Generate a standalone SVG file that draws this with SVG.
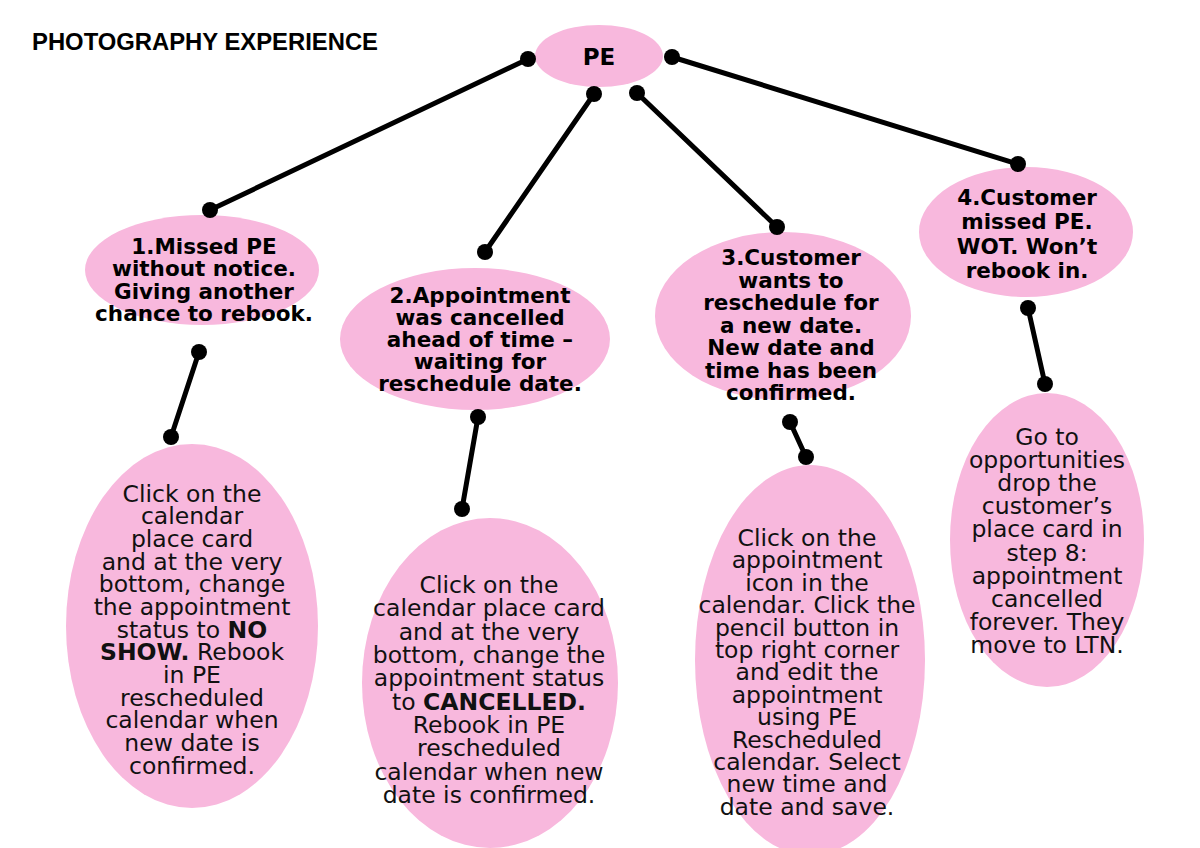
<svg xmlns="http://www.w3.org/2000/svg" width="1200" height="848" viewBox="0 0 1200 848">
<style>
.bg{fill:#ffffff}
.node{fill:#F8B8DD}
.b{font-family:"DejaVu Sans","Liberation Sans",sans-serif;font-weight:bold;font-size:21.5px;fill:#000;text-anchor:middle}
.r{font-family:"DejaVu Sans","Liberation Sans",sans-serif;font-size:23.5px;fill:#111;text-anchor:middle}
.r tspan.k{font-weight:bold}
.title{font-family:"Liberation Sans",Arial,sans-serif;font-weight:bold;font-size:23px;fill:#000}
.ln{stroke:#000;stroke-width:5;stroke-linecap:round;fill:none}
.dot{fill:#000}
</style>
<rect class="bg" x="0" y="0" width="1200" height="848"/>
<text class="title" x="32" y="50" textLength="346" lengthAdjust="spacingAndGlyphs">PHOTOGRAPHY EXPERIENCE</text>

<g id="pe">
<ellipse class="node" cx="599" cy="56" rx="64" ry="31"/>
<text class="b" x="599" y="65" style="font-size:23px">PE</text>
</g>

<g id="n1">
<ellipse class="node" cx="202" cy="270" rx="117" ry="55"/>
<text class="b"><tspan x="204" y="254">1.Missed PE</tspan><tspan x="204" y="276.3">without notice.</tspan><tspan x="204" y="298.7">Giving another</tspan><tspan x="204" y="321">chance to rebook.</tspan></text>
</g>

<g id="n2">
<ellipse class="node" cx="475" cy="339" rx="135" ry="71"/>
<text class="b"><tspan x="480" y="303">2.Appointment</tspan><tspan x="480" y="325">was cancelled</tspan><tspan x="480" y="347">ahead of time –</tspan><tspan x="480" y="369">waiting for</tspan><tspan x="480" y="391">reschedule date.</tspan></text>
</g>

<g id="n3">
<ellipse class="node" cx="783" cy="316" rx="128" ry="84"/>
<text class="b"><tspan x="791" y="265">3.Customer</tspan><tspan x="791" y="287.5">wants to</tspan><tspan x="791" y="310">reschedule for</tspan><tspan x="791" y="332.5">a new date.</tspan><tspan x="791" y="355">New date and</tspan><tspan x="791" y="377.5">time has been</tspan><tspan x="791" y="400">confirmed.</tspan></text>
</g>

<g id="n4">
<ellipse class="node" cx="1026" cy="232" rx="107" ry="65"/>
<text class="b"><tspan x="1027" y="205">4.Customer</tspan><tspan x="1027" y="229.3">missed PE.</tspan><tspan x="1027" y="253.7">WOT. Won’t</tspan><tspan x="1027" y="278">rebook in.</tspan></text>
</g>

<g id="d1">
<ellipse class="node" cx="192" cy="626" rx="126" ry="182"/>
<text class="r"><tspan x="192" y="501.5">Click on the</tspan><tspan x="192" y="524.2">calendar</tspan><tspan x="192" y="546.8">place card</tspan><tspan x="192" y="569.5">and at the very</tspan><tspan x="192" y="592.2">bottom, change</tspan><tspan x="192" y="614.8">the appointment</tspan><tspan x="192" y="637.5">status to <tspan class="k">NO</tspan></tspan><tspan x="192" y="660.2"><tspan class="k">SHOW.</tspan> Rebook</tspan><tspan x="192" y="682.8">in PE</tspan><tspan x="192" y="705.5">rescheduled</tspan><tspan x="192" y="728.2">calendar when</tspan><tspan x="192" y="750.8">new date is</tspan><tspan x="192" y="773.5">confirmed.</tspan></text>
</g>

<g id="d2">
<ellipse class="node" cx="490" cy="683" rx="128" ry="165"/>
<text class="r"><tspan x="489" y="593">Click on the</tspan><tspan x="489" y="616.3">calendar place card</tspan><tspan x="489" y="639.7">and at the very</tspan><tspan x="489" y="663">bottom, change the</tspan><tspan x="489" y="686.3">appointment status</tspan><tspan x="489" y="709.7">to <tspan class="k">CANCELLED.</tspan></tspan><tspan x="489" y="733">Rebook in PE</tspan><tspan x="489" y="756.3">rescheduled</tspan><tspan x="489" y="779.7">calendar when new</tspan><tspan x="489" y="803">date is confirmed.</tspan></text>
</g>

<g id="d3">
<ellipse class="node" cx="810" cy="660" rx="115" ry="195"/>
<text class="r"><tspan x="807" y="546">Click on the</tspan><tspan x="807" y="568.4">appointment</tspan><tspan x="807" y="590.8">icon in the</tspan><tspan x="807" y="613.2">calendar. Click the</tspan><tspan x="807" y="635.6">pencil button in</tspan><tspan x="807" y="658">top right corner</tspan><tspan x="807" y="680.4">and edit the</tspan><tspan x="807" y="702.8">appointment</tspan><tspan x="807" y="725.2">using PE</tspan><tspan x="807" y="747.6">Rescheduled</tspan><tspan x="807" y="770">calendar. Select</tspan><tspan x="807" y="792.4">new time and</tspan><tspan x="807" y="814.8">date and save.</tspan></text>
</g>

<g id="d4">
<ellipse class="node" cx="1047" cy="540" rx="97" ry="147"/>
<text class="r"><tspan x="1047" y="445">Go to</tspan><tspan x="1047" y="468.1">opportunities</tspan><tspan x="1047" y="491.2">drop the</tspan><tspan x="1047" y="514.3">customer’s</tspan><tspan x="1047" y="537.4">place card in</tspan><tspan x="1047" y="560.5">step 8:</tspan><tspan x="1047" y="583.6">appointment</tspan><tspan x="1047" y="606.7">cancelled</tspan><tspan x="1047" y="629.8">forever. They</tspan><tspan x="1047" y="652.9">move to LTN.</tspan></text>
</g>

<g id="connectors">
<line class="ln" x1="528" y1="59" x2="210" y2="210"/>
<line class="ln" x1="594" y1="94" x2="485" y2="252"/>
<line class="ln" x1="637" y1="93" x2="777" y2="227"/>
<line class="ln" x1="672" y1="57" x2="1018" y2="164"/>
<line class="ln" x1="199" y1="352" x2="171" y2="437"/>
<line class="ln" x1="478" y1="417" x2="462" y2="509"/>
<line class="ln" x1="790" y1="422" x2="806" y2="457"/>
<line class="ln" x1="1028" y1="308" x2="1045" y2="384"/>
<circle class="dot" cx="528" cy="59" r="8"/>
<circle class="dot" cx="210" cy="210" r="8"/>
<circle class="dot" cx="594" cy="94" r="8"/>
<circle class="dot" cx="485" cy="252" r="8"/>
<circle class="dot" cx="637" cy="93" r="8"/>
<circle class="dot" cx="777" cy="227" r="8"/>
<circle class="dot" cx="672" cy="57" r="8"/>
<circle class="dot" cx="1018" cy="164" r="8"/>
<circle class="dot" cx="199" cy="352" r="8"/>
<circle class="dot" cx="171" cy="437" r="8"/>
<circle class="dot" cx="478" cy="417" r="8"/>
<circle class="dot" cx="462" cy="509" r="8"/>
<circle class="dot" cx="790" cy="422" r="8"/>
<circle class="dot" cx="806" cy="457" r="8"/>
<circle class="dot" cx="1028" cy="308" r="8"/>
<circle class="dot" cx="1045" cy="384" r="8"/>
</g>
</svg>
